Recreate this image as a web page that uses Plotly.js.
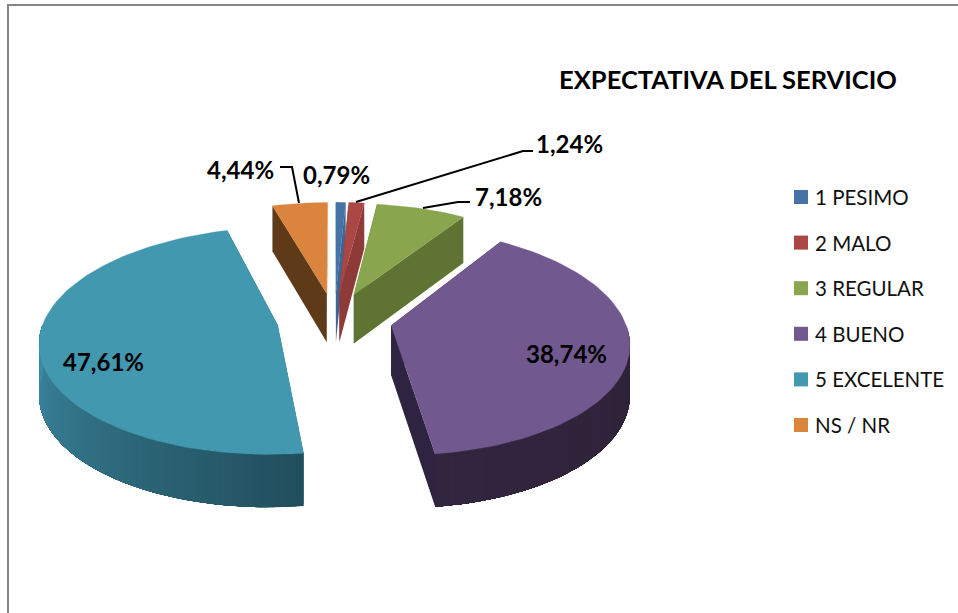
<!DOCTYPE html>
<html>
<head>
<meta charset="utf-8">
<script src="https://cdn.plot.ly/plotly-3.0.1.min.js"></script>
<style>html,body{margin:0;padding:0;background:#fff}#chart{width:958px;height:613px}</style>
</head>
<body>
<div id="chart"></div>
<script>
const categories = ['1 PESIMO', '2 MALO', '3 REGULAR', '4 BUENO', '5 EXCELENTE', 'NS / NR'];
const values = [0.79, 1.24, 7.18, 38.74, 47.61, 4.44];
const topColors = ['#4572A7', '#AA4643', '#89A54E', '#71588F', '#4198AF', '#DB843D'];
const wallColors = ['#3d6596', '#8e3a38', '#5f7333', '#2e2340', '#234f5e', '#5f3a18'];
const rimStart = [[47,82,115],[110,45,43],[95,115,51],[50,37,62],[33,78,92],[95,58,24]];
const rimEnd = [[47,82,115],[110,45,43],[95,115,51],[46,34,56],[62,140,165],[95,58,24]];
const title = 'EXPECTATIVA DEL SERVICIO';
const labelFont = 'Lato, Carlito, sans-serif';

// View of the tilted, exploded pie
const view = {cx: 334.5, cy: 319.5, rx: 233.5, ry: 110, persp: 0.137, pull: 0.247, depth: 49.5, depthSlope: 3.2};
const labelPos = [[336,174],[569,143],[508,196],[566.5,353],[103.5,361],[240.5,169]];
const leaders = ['M356,202 L523,151 L533,151','M423,208 L458,202 L470,202','M299,203 L292,167 L280,167'];
const legendBox = {swatchX: 801, textX: 813, top: 197, step: 45.6};

function project(u, v, down) {
  const s = 1 / (1 - view.persp * v);
  return [view.cx + view.rx * u * s, view.cy + view.ry * v * s + down * (view.depth + view.depthSlope * v)];
}
function polar(deg, r, ou, ov) {
  const a = deg * Math.PI / 180;
  return [ou + r * Math.sin(a), ov - r * Math.cos(a)];
}
function mix(a, b, t) {
  return 'rgb(' + a.map((c, i) => Math.round(c + (b[i] - c) * t)).join(',') + ')';
}
function poly(points, color, lineW) {
  return {type: 'scatter', mode: 'lines', x: points.map(p => p[0]), y: points.map(p => p[1]),
    fill: 'toself', fillcolor: color, line: {color: color, width: lineW}, hoverinfo: 'skip', showlegend: false};
}

const traces = [];
let cum = 0;
values.forEach((val, i) => {
  const a0 = cum / 100 * 360, a1 = (cum + val) / 100 * 360, mid = (a0 + a1) / 2;
  cum += val;
  const [ou, ov] = polar(mid, view.pull, 0, 0);
  const arc = [];
  const n = Math.max(4, Math.ceil((a1 - a0) / 2));
  for (let k = 0; k <= n; k++) arc.push(polar(a0 + (a1 - a0) * k / n, 1, ou, ov));
  const apexTop = project(ou, ov, 0), apexBot = project(ou, ov, 1);
  [arc[0], arc[n]].forEach(e => {
    traces.push(poly([apexTop, project(e[0], e[1], 0), project(e[0], e[1], 1), apexBot, apexTop], wallColors[i], 0));
  });
  // outer rim: the part that faces the viewer, shaded strip by strip (each runs on to the rim's end, so no seams)
  const from = Math.max(a0, 90), to = Math.min(a1, 270);
  if (to > from) {
    const strips = Math.ceil((to - from) / 1.5);
    for (let k = 0; k < strips; k++) {
      const b0 = from + (to - from) * k / strips;
      const t = (k + 0.5) / strips;
      const pts = [];
      const m = Math.ceil((to - b0) / 2) + 1;
      for (let j = 0; j <= m; j++) { const p = polar(b0 + (to - b0) * j / m, 1, ou, ov); pts.push(project(p[0], p[1], 0)); }
      for (let j = m; j >= 0; j--) { const p = polar(b0 + (to - b0) * j / m, 1, ou, ov); pts.push(project(p[0], p[1], 1)); }
      pts.push(pts[0]);
      traces.push(poly(pts, mix(i === 4 ? rimStart[i] : rimEnd[i], i === 4 ? rimEnd[i] : rimStart[i], t), 0));
    }
  }
  const face = [apexTop].concat(arc.map(p => project(p[0], p[1], 0)), [apexTop]);
  traces.push(poly(face, topColors[i], 0.3));
});

// legend: swatches, with their labels as annotations below
traces.push({type: 'scatter', mode: 'markers', x: categories.map(() => legendBox.swatchX),
  y: categories.map((c, i) => legendBox.top + i * legendBox.step), text: categories, showlegend: false, hoverinfo: 'skip',
  marker: {symbol: 'square', size: 14, color: topColors}});

const annotations = values.map((v, i) => ({
  x: labelPos[i][0], y: labelPos[i][1], xref: 'x', yref: 'y', showarrow: false,
  text: '<b>' + v.toFixed(2).replace('.', ',') + '%</b>',
  font: {family: labelFont, size: 24, color: '#000'}, xanchor: 'center', yanchor: 'middle'
})).concat(categories.map((c, i) => ({
  x: legendBox.textX, y: legendBox.top + i * legendBox.step, xref: 'x', yref: 'y', showarrow: false,
  text: c, font: {family: labelFont, size: 20.5, color: '#111'}, xanchor: 'left', yanchor: 'middle'
})));

const shapes = leaders.map(path => ({type: 'path', path: path, xref: 'x', yref: 'y', line: {color: '#000', width: 2}}));
shapes.push({type: 'path', path: 'M8,613 L8,5 L958,5', xref: 'x', yref: 'y', line: {color: '#868686', width: 2}});

const layout = {
  width: 958, height: 613, margin: {l: 0, r: 0, t: 0, b: 0}, showlegend: false,
  paper_bgcolor: '#fff', plot_bgcolor: '#fff',
  xaxis: {range: [0, 958], visible: false, fixedrange: true},
  yaxis: {range: [613, 0], visible: false, fixedrange: true},
  title: {text: '<b>' + title + '</b>', x: 728 / 958, y: 1 - 80 / 613, xanchor: 'center', yanchor: 'middle',
    font: {family: labelFont, size: 25.5, color: '#000'}},
  annotations: annotations, shapes: shapes, hovermode: false
};
Plotly.newPlot('chart', traces, layout, {displayModeBar: false, staticPlot: true});
</script>
</body>
</html>
